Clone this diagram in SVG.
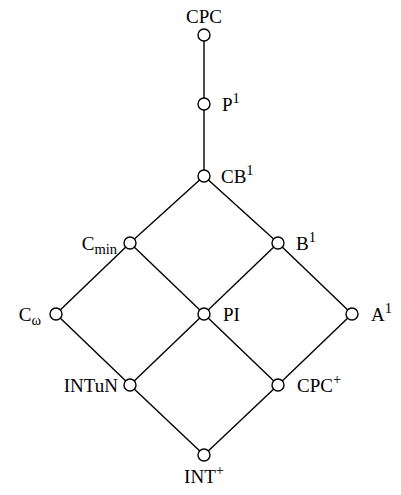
<svg xmlns="http://www.w3.org/2000/svg" width="401" height="495" viewBox="0 0 401 495">
<style>
.e{stroke:#000;stroke-width:1.4;fill:none}
.n{fill:#fff;stroke:#000;stroke-width:1.4}
text{font-family:"Liberation Serif","DejaVu Serif",serif;font-size:19px;fill:#000}
.s{font-size:14.5px}
</style>
<rect width="401" height="495" fill="#fff"/>
<g id="connectors" class="e">
<line x1="204" y1="35" x2="204" y2="104"/>
<line x1="204" y1="104" x2="204" y2="176"/>
<line x1="204" y1="176" x2="130" y2="243"/>
<line x1="204" y1="176" x2="278" y2="243"/>
<line x1="130" y1="243" x2="56" y2="314"/>
<line x1="130" y1="243" x2="204" y2="314"/>
<line x1="278" y1="243" x2="204" y2="314"/>
<line x1="278" y1="243" x2="352" y2="314"/>
<line x1="56" y1="314" x2="130" y2="385"/>
<line x1="204" y1="314" x2="130" y2="385"/>
<line x1="204" y1="314" x2="278" y2="385"/>
<line x1="352" y1="314" x2="278" y2="385"/>
<line x1="130" y1="385" x2="204" y2="455"/>
<line x1="278" y1="385" x2="204" y2="455"/>
</g>
<g id="CPC"><circle class="n" cx="204" cy="35" r="6"/><text x="204" y="23" text-anchor="middle">CPC</text></g>
<g id="P1"><circle class="n" cx="204" cy="104" r="6"/><text x="222" y="111">P<tspan class="s" dy="-8">1</tspan></text></g>
<g id="CB1"><circle class="n" cx="204" cy="176" r="6"/><text x="221" y="183">CB<tspan class="s" dy="-8">1</tspan></text></g>
<g id="Cmin"><circle class="n" cx="130" cy="243" r="6"/><text x="117" y="250" text-anchor="end">C<tspan class="s" dy="4">min</tspan></text></g>
<g id="B1"><circle class="n" cx="278" cy="243" r="6"/><text x="296" y="250">B<tspan class="s" dy="-8">1</tspan></text></g>
<g id="Comega"><circle class="n" cx="56" cy="314" r="6"/><text x="41" y="321" text-anchor="end">C<tspan class="s" dy="4">ω</tspan></text></g>
<g id="PI"><circle class="n" cx="204" cy="314" r="6"/><text x="223" y="321">PI</text></g>
<g id="A1"><circle class="n" cx="352" cy="314" r="6"/><text x="371" y="321">A<tspan class="s" dy="-8">1</tspan></text></g>
<g id="INTuN"><circle class="n" cx="130" cy="385" r="6"/><text x="118" y="392" text-anchor="end">INTuN</text></g>
<g id="CPCplus"><circle class="n" cx="278" cy="385" r="6"/><text x="297" y="392">CPC<tspan class="s" dy="-8">+</tspan></text></g>
<g id="INTplus"><circle class="n" cx="204" cy="455" r="6"/><text x="204" y="483" text-anchor="middle">INT<tspan class="s" dy="-8">+</tspan></text></g>
</svg>
